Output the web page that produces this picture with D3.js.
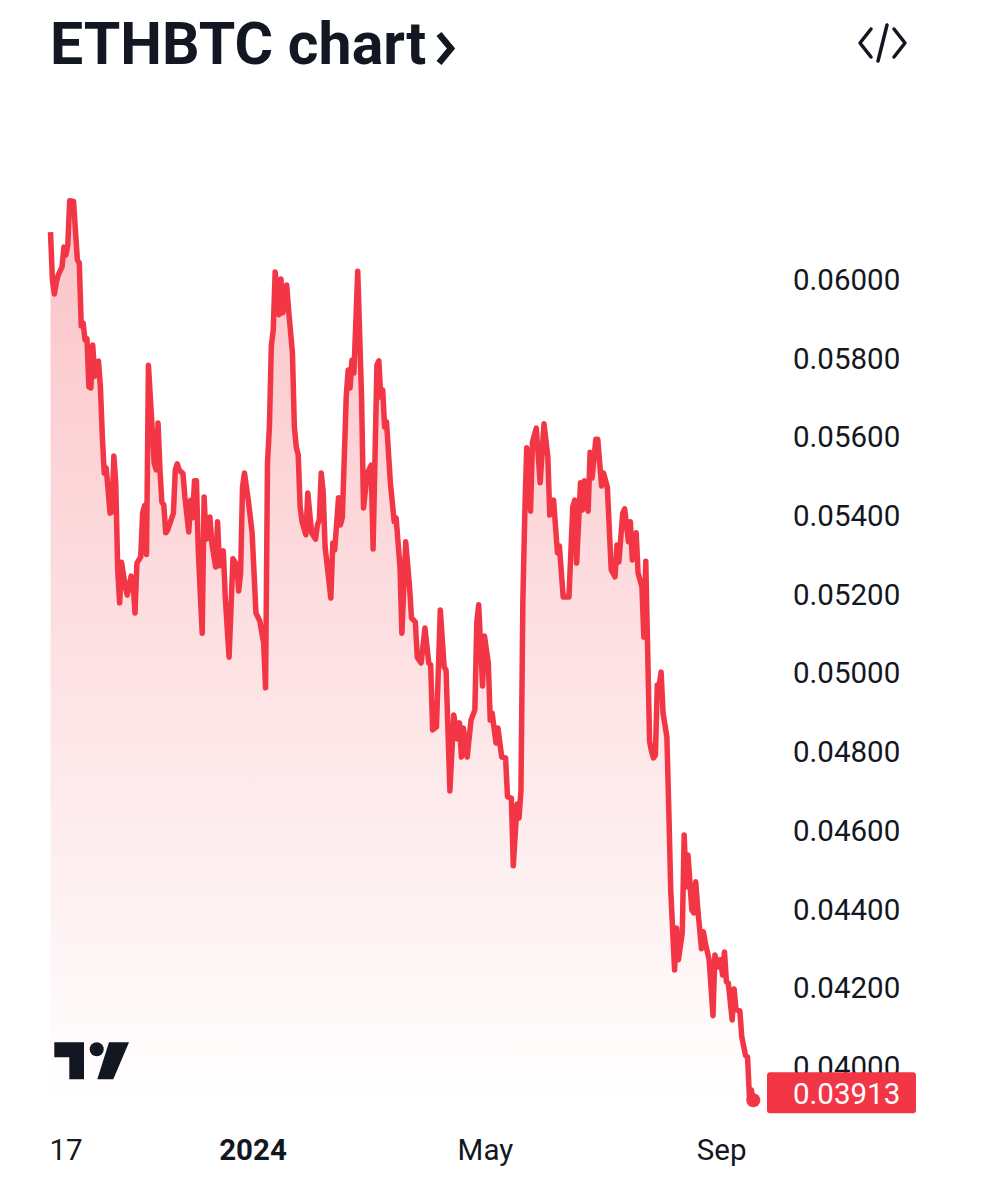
<!DOCTYPE html>
<html>
<head>
<meta charset="utf-8">
<script src="https://cdn.jsdelivr.net/npm/d3@7"></script>
<style>
html,body {margin:0;padding:0;background:#fff;}
svg {display:block;}
text {font-family:Roboto,sans-serif;fill:#131722;}
</style>
</head>
<body>
<svg id="chart" width="981" height="1200"></svg>
<script>
const titulo = "ETHBTC chart";
const inicio = new Date(2023,8,17);
const fin = new Date(2024,8,17);

// days since 17 Sep 2023
const dias = [
0,1,2,3,4,6,7,8,9,10,
12,14,15,16,17,18,19,20,21,22,
23,24,25,26,27,28,29,30,31,32,
33,34,35,36,37,39,40,42,43,44,
45,47,48,49,50,51,54,55,56,57,
58,59,60,61,64,65,66,67,69,70,
72,73,74,75,76,77,79,80,81,82,
83,84,86,87,88,90,91,93,95,97,
98,99,100,101,103,105,107,109,111,112,
113,114,115,116,117,119,120,121,123,124,
126,127,128,129,130,131,133,134,136,138,
139,140,141,142,143,146,147,148,150,151,
152,154,155,156,157,158,160,162,163,165,
167,168,170,171,172,173,174,175,177,179,
180,182,183,185,187,188,190,191,193,195,
197,198,199,201,203,205,206,208,210,212,
213,214,215,217,219,221,222,223,225,226,
228,229,230,232,233,235,237,238,240,241,
243,244,245,246,247,248,250,251,253,255,
257,259,260,262,264,265,267,270,272,273,
274,276,277,278,280,281,282,284,285,287,
288,290,292,294,295,296,298,299,301,302,
303,305,306,308,309,310,312,313,314,315,
316,317,318,319,321,322,323,325,326,327,
329,330,331,332,334,335,336,337,339,340,
341,343,345,346,348,349,350,351,352,353,
355,356,357,359,360,362,363,364,365,366];

const cierres = [
0.06119,0.05997,0.05962,0.05990,0.06010,0.06031,0.06081,0.06061,0.06086,0.06199,
0.06197,0.06048,0.06041,0.05881,0.05888,0.05845,0.05848,0.05726,0.05723,0.05832,
0.05753,0.05788,0.05791,0.05725,0.05599,0.05507,0.05520,0.05464,0.05405,0.05408,
0.05550,0.05480,0.05261,0.05177,0.05280,0.05217,0.05197,0.05245,0.05230,0.05151,
0.05278,0.05294,0.05406,0.05424,0.05300,0.05781,0.05532,0.05515,0.05634,0.05515,
0.05433,0.05426,0.05355,0.05362,0.05405,0.05515,0.05530,0.05515,0.05505,0.05446,
0.05357,0.05438,0.05393,0.05487,0.05487,0.05304,0.05100,0.05446,0.05339,0.05342,
0.05395,0.05329,0.05268,0.05383,0.05271,0.05309,0.05192,0.05039,0.05289,0.05273,
0.05207,0.05253,0.05471,0.05507,0.05438,0.05355,0.05151,0.05131,0.05075,0.04961,
0.05532,0.05624,0.05830,0.05870,0.06018,0.05909,0.06000,0.05914,0.05985,0.05921,
0.05812,0.05624,0.05573,0.05553,0.05421,0.05383,0.05350,0.05456,0.05355,0.05339,
0.05375,0.05388,0.05507,0.05459,0.05319,0.05189,0.05329,0.05311,0.05444,0.05375,
0.05395,0.05700,0.05769,0.05723,0.05794,0.05761,0.06020,0.05700,0.05418,0.05507,
0.05527,0.05314,0.05781,0.05792,0.05700,0.05718,0.05624,0.05637,0.05482,0.05383,
0.05393,0.05268,0.05100,0.05332,0.05217,0.05139,0.05128,0.05039,0.05024,0.05113,
0.05024,0.05019,0.04854,0.04862,0.05159,0.05014,0.05006,0.04699,0.04892,0.04831,
0.04872,0.04785,0.04859,0.04785,0.04879,0.04905,0.05128,0.05172,0.04966,0.05093,
0.05024,0.04879,0.04897,0.04821,0.04859,0.04785,0.04783,0.04684,0.04681,0.04509,
0.04666,0.04630,0.04700,0.05184,0.05403,0.05571,0.05410,0.05586,0.05621,0.05482,
0.05632,0.05548,0.05400,0.05438,0.05304,0.05322,0.05192,0.05192,0.05421,0.05438,
0.05278,0.05482,0.05413,0.05487,0.05410,0.05560,0.05494,0.05593,0.05593,0.05474,
0.05507,0.05471,0.05261,0.05243,0.05324,0.05281,0.05405,0.05416,0.05332,0.05383,
0.05286,0.05355,0.05253,0.05217,0.05090,0.05283,0.04824,0.04800,0.04783,0.04790,
0.04968,0.04968,0.05001,0.04897,0.04836,0.04651,0.04447,0.04244,0.04351,0.04270,
0.04338,0.04587,0.04455,0.04536,0.04397,0.04389,0.04468,0.04404,0.04298,0.04341,
0.04313,0.04270,0.04128,0.04282,0.04252,0.04270,0.04231,0.04290,0.04214,0.04211,
0.04117,0.04196,0.04143,0.04140,0.04074,0.04026,0.04023,0.03919,0.03939,0.03913];

const preciosTicks = [0.06,0.058,0.056,0.054,0.052,0.05,0.048,0.046,0.044,0.042,0.04];
const fechasTicks = [new Date(2023,8,17),new Date(2024,0,1),new Date(2024,4,1),new Date(2024,8,1)];
const etiquetasTicks = ["17","2024","May","Sep"];
const ultimo = cierres[cierres.length-1];

let datos = dias.map((d,i) => {return {fecha:d3.timeDay.offset(inicio,d),valor:cierres[i]}});

const rojo = "#f23645";
const tinta = "#131722";
let svg = d3.select("#chart");

let scx = d3.scaleTime([inicio,fin],[50.5,753.3]);
let scy = d3.scaleLinear([0.04,0.06],[1066,279]);
let fondo = 1107;

let grad = svg.append("defs").append("linearGradient")
    .attr("id","relleno")
    .attr("gradientUnits","userSpaceOnUse")
    .attr("x1",0).attr("x2",0)
    .attr("y1",200).attr("y2",fondo);
grad.append("stop").attr("offset","0%").attr("stop-color",rojo).attr("stop-opacity",0.3);
grad.append("stop").attr("offset","100%").attr("stop-color",rojo).attr("stop-opacity",0);

svg.append("path")
    .datum(datos)
    .attr("fill","url(#relleno)")
    .attr("d",d3.area().x(d => scx(d.fecha)).y0(fondo).y1(d => scy(d.valor)));

// price axis
let ejeY = svg.append("g")
    .attr("transform","translate(793,1)")
    .call(d3.axisRight(scy).tickValues(preciosTicks).tickSize(0).tickPadding(0).tickFormat(d3.format(".5f")));
ejeY.select(".domain").remove();
ejeY.selectAll("text")
    .style("font-size","29.5px")
    .style("font-family","Roboto,sans-serif")
    .attr("fill",tinta);

// time axis
let ejeX = svg.append("g")
    .attr("transform","translate(-1.5,1139)")
    .call(d3.axisBottom(scx).tickValues(fechasTicks).tickSize(0).tickPadding(0).tickFormat((d,i) => etiquetasTicks[i]));
ejeX.select(".domain").remove();
ejeX.selectAll("text")
    .style("font-size","29.5px")
    .style("font-family","Roboto,sans-serif")
    .style("font-weight",(d,i) => i == 1 ? 700 : 400)
    .attr("fill",tinta)
    .attr("text-anchor",(d,i) => i == 0 ? "start" : "middle");

svg.append("path")
    .datum(datos)
    .attr("fill","none")
    .attr("stroke",rojo)
    .attr("stroke-width",5.5)
    .attr("stroke-linejoin","round")
    .attr("d",d3.line().x(d => scx(d.fecha)).y(d => scy(d.valor)));

svg.append("circle")
    .attr("cx",scx(fin))
    .attr("cy",scy(ultimo))
    .attr("r",7)
    .attr("fill",rojo);

// last price label
svg.append("rect")
    .attr("x",767).attr("y",scy(ultimo) - 28)
    .attr("width",149).attr("height",41)
    .attr("rx",3)
    .attr("fill",rojo);
svg.append("text")
    .attr("x",793).attr("y",scy(ultimo) - 7)
    .attr("dy","0.35em")
    .style("font-size","29.5px")
    .style("fill","#fff")
    .text(d3.format(".5f")(ultimo));

// tradingview logo
let logo = svg.append("g").attr("fill",tinta);
logo.append("path").attr("d","M54.3 1042.3H84V1079.3H69.3V1057.3H54.3Z");
logo.append("circle").attr("cx",96.7).attr("cy",1049.3).attr("r",7);
logo.append("path").attr("d","M109 1042.3H129L113.3 1079.3H97.3Z");

// header
svg.append("text")
    .attr("x",50).attr("y",64)
    .style("font-size","59px")
    .style("font-weight",700)
    .text(titulo);
svg.append("path")
    .attr("d","M439 34L451 48.5L439 63")
    .attr("fill","none")
    .attr("stroke",tinta)
    .attr("stroke-width",6.5);

let icono = svg.append("g")
    .attr("fill","none")
    .attr("stroke",tinta)
    .attr("stroke-width",3.5)
    .attr("stroke-linecap","round")
    .attr("stroke-linejoin","round");
icono.append("path").attr("d","M871 29L860 43L871 57");
icono.append("path").attr("d","M894 29L905 43L894 57");
icono.append("path").attr("d","M887 25L878 61");
</script>
</body>
</html>
